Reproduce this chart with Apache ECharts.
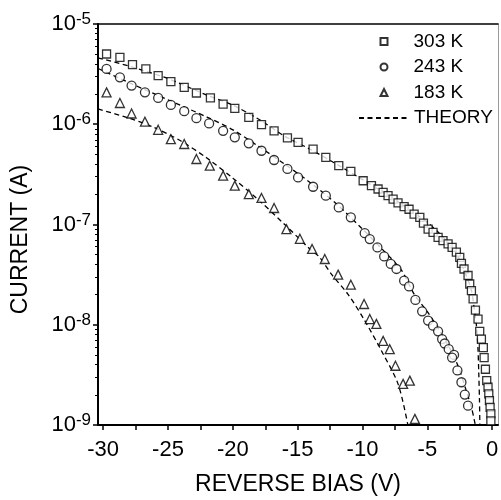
<!DOCTYPE html>
<html>
<head>
<meta charset="utf-8">
<script src="https://cdn.jsdelivr.net/npm/echarts@6/dist/echarts.min.js"></script>
<style>html,body{margin:0;padding:0;background:#fff;}#c{width:501px;height:500px;}</style>
</head>
<body>
<div id="c"></div>
<script>
// ---- data ----
const v303 = [-29.74,-28.71,-27.74,-26.71,-25.76,-24.78,-23.75,-22.81,-21.73,-20.75,-19.85,-18.77,-17.79,-16.82,-15.79,-14.97,-13.81,-12.83,-11.83,-10.9,-9.95,-9.31,-8.8,-8.41,-8.03,-7.64,-7.26,-6.79,-6.41,-6.02,-5.58,-5.3,-4.94,-4.56,-4.17,-3.79,-3.4,-3.09,-2.76,-2.5,-2.37,-2.17,-1.86,-1.73,-1.6,-1.47,-1.29,-1.09,-0.96,-0.83,-0.68,-0.62,-0.52,-0.42,-0.32,-0.26,-0.21,-0.16,-0.1,-0.1];
const i303 = [5.02e-6,4.65e-6,3.93e-6,3.56e-6,3.05e-6,2.66e-6,2.33e-6,2.05e-6,1.83e-6,1.59e-6,1.44e-6,1.17e-6,9.9e-7,8.6e-7,7.3e-7,6.6e-7,5.66e-7,4.67e-7,3.86e-7,3.39e-7,2.73e-7,2.44e-7,2.26e-7,2.09e-7,1.94e-7,1.79e-7,1.64e-7,1.51e-7,1.42e-7,1.27e-7,1.18e-7,1.03e-7,9.0e-8,8.35e-8,7.45e-8,6.9e-8,6.4e-8,5.9e-8,5.3e-8,4.7e-8,4.1e-8,3.6e-8,3.1e-8,2.55e-8,2.19e-8,1.81e-8,1.40e-8,1.14e-8,8.6e-9,7.2e-9,5.9e-9,4.7e-9,3.6e-9,2.77e-9,2.38e-9,2.04e-9,1.75e-9,1.50e-9,1.29e-9,1.10e-9];

const v243 = [-29.74,-28.71,-27.81,-26.78,-25.76,-24.78,-23.75,-22.81,-21.83,-20.75,-19.85,-18.77,-17.79,-16.82,-15.79,-14.97,-13.81,-12.83,-11.83,-10.9,-9.83,-9.44,-8.85,-8.33,-7.82,-7.38,-6.79,-6.41,-5.92,-5.4,-4.94,-4.56,-4.17,-3.86,-3.66,-3.35,-2.94,-3.09,-2.68,-2.37,-2.11,-1.86];
const i243 = [3.56e-6,2.94e-6,2.43e-6,2.08e-6,1.83e-6,1.56e-6,1.35e-6,1.15e-6,1.02e-6,8.6e-7,7.4e-7,6.45e-7,5.44e-7,4.4e-7,3.58e-7,2.95e-7,2.38e-7,1.94e-7,1.48e-7,1.18e-7,8.2e-8,7.16e-8,5.9e-8,4.8e-8,4.04e-8,3.6e-8,2.75e-8,2.41e-8,1.77e-8,1.36e-8,1.10e-8,9.8e-9,8.6e-9,7.2e-9,6.5e-9,5.7e-9,5.0e-9,4.7e-9,3.5e-9,2.67e-9,2.01e-9,1.56e-9];

const v183 = [-29.74,-28.71,-27.81,-26.78,-25.76,-24.78,-23.75,-22.81,-21.78,-20.75,-19.85,-18.77,-17.79,-16.82,-15.87,-14.83,-13.89,-12.91,-11.88,-10.9,-9.88,-9.44,-8.93,-8.41,-7.9,-7.46,-6.87,-6.35,-5.96];
const i183 = [2.08e-6,1.63e-6,1.28e-6,1.06e-6,8.8e-7,7.1e-7,6.35e-7,4.5e-7,3.86e-7,3.07e-7,2.44e-7,2.01e-7,1.84e-7,1.46e-7,9.0e-8,7.2e-8,5.7e-8,4.53e-8,3.16e-8,2.51e-8,1.61e-8,1.14e-8,1.02e-8,6.9e-9,5.7e-9,3.9e-9,2.57e-9,2.77e-9,1.15e-9];

const tv303 = [-30.4,-28,-25,-22,-20,-18,-16,-14,-12,-10,-8,-6,-5,-4,-3,-2.5,-2,-1.6,-1.4,-1.22,-1.1,-1.03,-0.98,-0.95];
const ti303 = [4.6e-6,3.8e-6,2.85e-6,1.95e-6,1.55e-6,1.12e-6,7.6e-7,5.6e-7,4.0e-7,2.8e-7,1.95e-7,1.3e-7,1.05e-7,8.0e-8,5.7e-8,4.4e-8,3.1e-8,2.2e-8,1.5e-8,1.0e-8,6e-9,3.2e-9,1.8e-9,1.0e-9];

const tv243 = [-30.4,-28,-25,-22,-20,-18,-16,-14,-12,-10,-8.5,-7,-6,-5,-4,-3,-2.5,-2,-1.6,-1.3];
const ti243 = [3.6e-6,2.6e-6,1.75e-6,1.18e-6,8.8e-7,6.0e-7,4.0e-7,2.6e-7,1.6e-7,9.0e-8,5.7e-8,3.5e-8,2.0e-8,1.35e-8,8.5e-9,5e-9,3.5e-9,2.2e-9,1.5e-9,1.0e-9];

const tv183 = [-30.4,-28,-26,-24,-22,-20,-18,-16,-14,-13.3,-12.4,-11.1,-9.83,-8.54,-7.26,-6.5];
const ti183 = [1.42e-6,1.15e-6,9.2e-7,6.8e-7,4.6e-7,2.9e-7,1.75e-7,1.0e-7,5.6e-8,4.7e-8,3.2e-8,2.0e-8,1.1e-8,5.5e-9,2.57e-9,1.0e-9];

const xTicks = [-30,-25,-20,-15,-10,-5,0];
const xMinorTicks = [-27.5,-22.5,-17.5,-12.5,-7.5,-2.5];
const legendNames = ['303 K','243 K','183 K','THEORY'];

// ---- build ----
const zip = (a, b) => a.map((v, k) => [v, b[k]]);

const markStyle = { color: '#fff', borderColor: '#000', borderWidth: 1.3 };
const dashStyle = { color: '#000', width: 1.3, type: [5, 3.5] };

const chart = echarts.init(document.getElementById('c'), null, { renderer: 'canvas' });
const font = 'Liberation Sans, Arial, sans-serif';
const legendText = { fontFamily: font, fontSize: 19, color: '#000', lineHeight: 19 };

chart.setOption({
  animation: false,
  backgroundColor: '#fff',
  textStyle: { fontFamily: font, color: '#000' },
  grid: { left: 98, right: 3, top: 24, bottom: 75, containLabel: false, outerBoundsMode: 'none' },
  legend: [
    {
      data: legendNames.slice(0, 3),
      orient: 'vertical',
      left: 379.5, top: 32,
      itemWidth: 7, itemHeight: 7, itemGap: 6.5,
      textStyle: Object.assign({ padding: [0, 0, 0, 21] }, legendText),
      padding: 0
    },
    {
      data: [{ name: legendNames[3], itemStyle: { color: 'rgba(0,0,0,0)', borderColor: 'rgba(0,0,0,0)', borderWidth: 0, opacity: 0 } }],
      orient: 'vertical',
      left: 358, top: 108.5,
      itemWidth: 50, itemHeight: 7,
      textStyle: legendText,
      padding: 0
    }
  ],
  xAxis: [
    {
      type: 'value', min: -30.4, max: 0.45, position: 'bottom',
      name: 'REVERSE BIAS (V)', nameLocation: 'middle', nameGap: 48,
      nameTextStyle: { fontFamily: font, fontSize: 23, color: '#000' },
      axisLine: { show: true, onZero: false, lineStyle: { color: '#000', width: 2 } },
      axisTick: { show: true, customValues: xTicks.concat(xMinorTicks), length: 5, inside: false, lineStyle: { color: '#000', width: 1.5 } },
      axisLabel: { customValues: xTicks, fontFamily: font, fontSize: 22, color: '#000', margin: 14 },
      splitLine: { show: false }
    },
    {
      type: 'value', min: -30.4, max: 0.45, position: 'top',
      axisLine: { show: true, onZero: false, lineStyle: { color: '#000', width: 1.5 } },
      axisTick: { show: false }, axisLabel: { show: false }, splitLine: { show: false }
    }
  ],
  yAxis: [
    {
      type: 'log', logBase: 10, min: 1e-9, max: 1e-5, position: 'left',
      name: 'CURRENT (A)', nameLocation: 'middle', nameGap: 66,
      nameTextStyle: { fontFamily: font, fontSize: 23, color: '#000', padding: [0, 30, 0, 0] },
      axisLine: { show: true, onZero: false, lineStyle: { color: '#000', width: 2 } },
      axisTick: { show: true, length: 5, lineStyle: { color: '#000', width: 1.5 } },
      minorTick: { show: true, splitNumber: 9, length: 3, lineStyle: { color: '#000', width: 1 } },
      axisLabel: {
        margin: 7,
        formatter: function (v) { return '{b|10}{s|' + Math.round(Math.log10(v)) + '}'; },
        rich: {
          b: { fontFamily: font, fontSize: 22, color: '#000' },
          s: { fontFamily: font, fontSize: 17, color: '#000', padding: [0, 0, 9, 0] }
        }
      },
      splitLine: { show: false }, minorSplitLine: { show: false }
    },
    {
      type: 'log', logBase: 10, min: 1e-9, max: 1e-5, position: 'right',
      axisLine: { show: true, onZero: false, lineStyle: { color: '#999', width: 1 } },
      axisTick: { show: false }, axisLabel: { show: false }, splitLine: { show: false }
    }
  ],
  series: [
    { name: 'THEORY', type: 'line', data: zip(tv303, ti303), symbol: 'none', smooth: 0.3, lineStyle: dashStyle, itemStyle: { color: '#000' }, z: 1 },
    { name: 'THEORY', type: 'line', data: zip(tv243, ti243), symbol: 'none', smooth: 0.3, lineStyle: dashStyle, itemStyle: { color: '#000' }, z: 1 },
    { name: 'THEORY', type: 'line', data: zip(tv183, ti183), symbol: 'none', smooth: 0.3, lineStyle: dashStyle, itemStyle: { color: '#000' }, z: 1 },
    { name: '303 K', type: 'scatter', data: zip(v303, i303), symbol: 'rect', symbolSize: 8, itemStyle: markStyle, z: 3 },
    { name: '243 K', type: 'scatter', data: zip(v243, i243), symbol: 'circle', symbolSize: 9, itemStyle: markStyle, z: 3 },
    { name: '183 K', type: 'scatter', data: zip(v183, i183), symbol: 'triangle', symbolSize: 9, itemStyle: markStyle, z: 3 }
  ]
});
</script>
</body>
</html>
